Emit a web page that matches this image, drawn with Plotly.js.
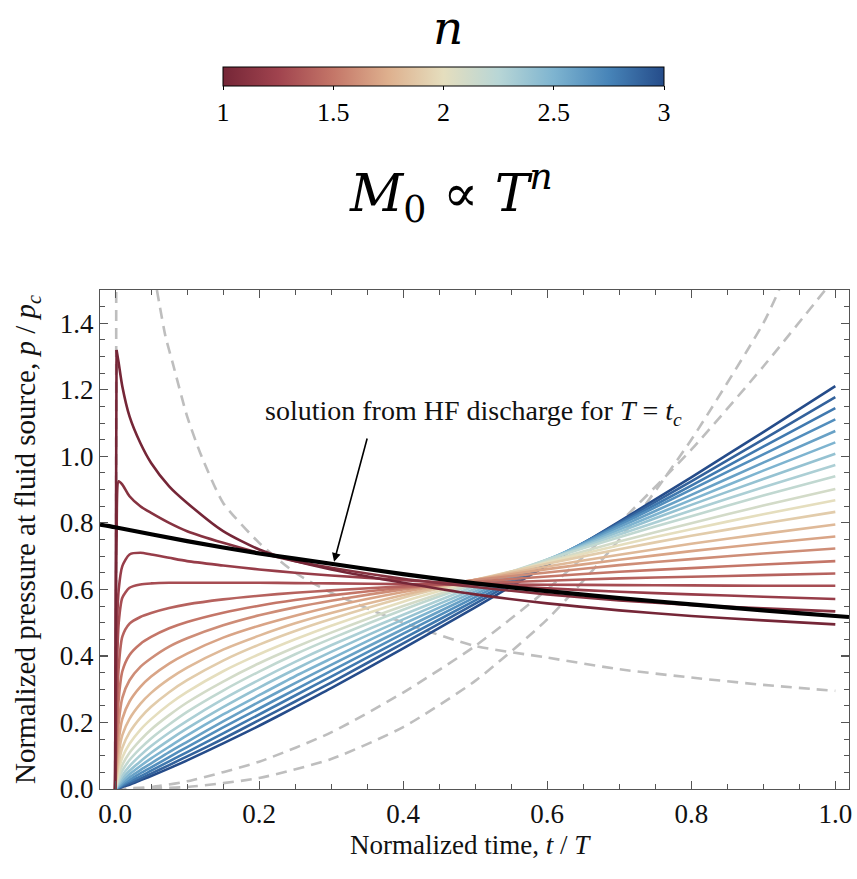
<!DOCTYPE html>
<html>
<head>
<meta charset="utf-8">
<script src="https://cdn.plot.ly/plotly-3.0.1.min.js"></script>
<style>
  html, body { margin: 0; padding: 0; background: #ffffff; }
  #chart { width: 857px; height: 879px; }
</style>
</head>
<body>
<div id="chart"></div>
<script>
// ---- data ----
const nValues = [1.0, 1.1, 1.2, 1.3, 1.4, 1.5, 1.6, 1.7, 1.8, 1.9, 2.0, 2.1, 2.2, 2.3, 2.4, 2.5, 2.6, 2.7, 2.8, 2.9, 3.0];

const timeGrid = [0, 0.002, 0.005, 0.01, 0.02, 0.035, 0.05, 0.075, 0.1, 0.15, 0.2, 0.25, 0.3, 0.4, 0.5, 0.6, 0.7, 0.8, 0.9, 1.0];

const pressure_n10 = [0, 1.32, 1.28, 1.21, 1.12, 1.04, 0.98, 0.91, 0.86, 0.775, 0.72, 0.685, 0.66, 0.62, 0.585, 0.558, 0.537, 0.52, 0.507, 0.495];
const pressure_n11 = [0, 0.75, 0.925, 0.915, 0.88, 0.85, 0.83, 0.80, 0.775, 0.74, 0.71, 0.685, 0.665, 0.632, 0.607, 0.585, 0.567, 0.553, 0.543, 0.534];
const pressure_n12 = [0, 0.45, 0.60, 0.67, 0.705, 0.71, 0.705, 0.695, 0.685, 0.672, 0.66, 0.65, 0.642, 0.628, 0.615, 0.603, 0.593, 0.585, 0.578, 0.571];
const pressure_n13 = [0, 0.32, 0.50, 0.575, 0.605, 0.615, 0.618, 0.62, 0.62, 0.62, 0.62, 0.619, 0.618, 0.616, 0.615, 0.614, 0.613, 0.612, 0.611, 0.611];
const pressure_n14 = [0, 0.207, 0.367, 0.458, 0.497, 0.517, 0.529, 0.544, 0.555, 0.570, 0.581, 0.590, 0.597, 0.609, 0.618, 0.626, 0.633, 0.638, 0.643, 0.648];
const pressure_n15 = [0, 0.144, 0.272, 0.354, 0.403, 0.436, 0.457, 0.483, 0.502, 0.530, 0.551, 0.568, 0.582, 0.605, 0.623, 0.639, 0.653, 0.664, 0.675, 0.685];
const pressure_n16 = [0, 0.100, 0.200, 0.274, 0.327, 0.367, 0.393, 0.428, 0.453, 0.492, 0.522, 0.546, 0.566, 0.600, 0.628, 0.651, 0.673, 0.691, 0.708, 0.723];
const pressure_n17 = [0, 0.069, 0.147, 0.211, 0.263, 0.307, 0.338, 0.377, 0.407, 0.455, 0.491, 0.521, 0.548, 0.592, 0.629, 0.661, 0.689, 0.715, 0.738, 0.759];
const pressure_n18 = [0, 0.047, 0.108, 0.162, 0.211, 0.256, 0.289, 0.331, 0.365, 0.419, 0.461, 0.498, 0.529, 0.583, 0.629, 0.669, 0.704, 0.737, 0.767, 0.795];
const pressure_n19 = [0, 0.033, 0.079, 0.124, 0.170, 0.214, 0.247, 0.291, 0.327, 0.386, 0.434, 0.475, 0.511, 0.575, 0.629, 0.677, 0.721, 0.761, 0.798, 0.833];
const pressure_n20 = [0, 0.022, 0.057, 0.095, 0.136, 0.178, 0.210, 0.255, 0.292, 0.354, 0.405, 0.450, 0.491, 0.563, 0.625, 0.681, 0.733, 0.781, 0.826, 0.868];
const pressure_n21 = [0, 0.015, 0.042, 0.072, 0.109, 0.147, 0.179, 0.222, 0.260, 0.323, 0.378, 0.426, 0.470, 0.550, 0.621, 0.684, 0.744, 0.799, 0.852, 0.902];
const pressure_n22 = [0, 0.010, 0.030, 0.055, 0.087, 0.122, 0.152, 0.194, 0.232, 0.296, 0.353, 0.405, 0.452, 0.539, 0.617, 0.689, 0.757, 0.820, 0.882, 0.940];
const pressure_n23 = [0, 0.007, 0.022, 0.041, 0.069, 0.101, 0.129, 0.169, 0.205, 0.270, 0.328, 0.382, 0.432, 0.524, 0.610, 0.690, 0.765, 0.837, 0.907, 0.974];
const pressure_n24 = [0, 0.005, 0.016, 0.032, 0.055, 0.083, 0.109, 0.147, 0.182, 0.246, 0.305, 0.360, 0.412, 0.510, 0.602, 0.689, 0.773, 0.854, 0.932, 1.008];
const pressure_n25 = [0, 0.003, 0.012, 0.024, 0.044, 0.069, 0.092, 0.127, 0.161, 0.224, 0.282, 0.339, 0.392, 0.496, 0.594, 0.689, 0.780, 0.869, 0.957, 1.042];
const pressure_n26 = [0, 0.002, 0.008, 0.018, 0.035, 0.057, 0.077, 0.111, 0.142, 0.203, 0.262, 0.318, 0.373, 0.481, 0.586, 0.687, 0.787, 0.884, 0.981, 1.076];
const pressure_n27 = [0, 0.002, 0.006, 0.014, 0.027, 0.047, 0.065, 0.096, 0.126, 0.185, 0.242, 0.299, 0.355, 0.467, 0.577, 0.685, 0.793, 0.900, 1.006, 1.111];
const pressure_n28 = [0, 0.001, 0.004, 0.010, 0.022, 0.038, 0.055, 0.083, 0.111, 0.167, 0.224, 0.281, 0.338, 0.452, 0.567, 0.682, 0.797, 0.912, 1.029, 1.145];
const pressure_n29 = [0, 0.001, 0.003, 0.008, 0.017, 0.031, 0.046, 0.072, 0.098, 0.151, 0.207, 0.263, 0.320, 0.438, 0.557, 0.678, 0.801, 0.925, 1.051, 1.178];
const pressure_n30 = [0, 0.000, 0.002, 0.006, 0.013, 0.026, 0.039, 0.062, 0.086, 0.137, 0.190, 0.246, 0.303, 0.423, 0.546, 0.673, 0.804, 0.937, 1.073, 1.211];

const pressureSeries = [pressure_n10, pressure_n11, pressure_n12, pressure_n13, pressure_n14, pressure_n15, pressure_n16,
  pressure_n17, pressure_n18, pressure_n19, pressure_n20, pressure_n21, pressure_n22, pressure_n23, pressure_n24,
  pressure_n25, pressure_n26, pressure_n27, pressure_n28, pressure_n29, pressure_n30];

// HF discharge solution (black)
const hfTime     = [-0.021, 0, 0.1, 0.2, 0.3, 0.4, 0.5, 0.6, 0.7, 0.8, 0.9, 1.0, 1.019];
const hfPressure = [0.795, 0.787, 0.745, 0.708, 0.677, 0.646, 0.618, 0.595, 0.574, 0.555, 0.537, 0.520, 0.517];

// grey dashed reference curves
const nearZeroTime     = [0.0015, 0.0015];
const nearZeroPressure = [0.0, 1.5];
const decayTime     = [0.058, 0.07, 0.08, 0.1, 0.12, 0.15, 0.2, 0.25, 0.3, 0.4, 0.5, 0.6, 0.7, 0.8, 0.9, 1.0];
const decayPressure = [1.5, 1.36, 1.28, 1.12, 1.0, 0.86, 0.74, 0.65, 0.59, 0.50, 0.43, 0.395, 0.36, 0.335, 0.313, 0.295];
const riseATime     = [0, 0.05, 0.1, 0.2, 0.3, 0.4, 0.5, 0.6, 0.7, 0.8, 0.9, 0.986];
const riseAPressure = [0, 0.006, 0.023, 0.082, 0.17, 0.29, 0.43, 0.60, 0.80, 1.02, 1.27, 1.5];
const riseBTime     = [0, 0.1, 0.2, 0.3, 0.4, 0.5, 0.6, 0.7, 0.8, 0.9, 0.922];
const riseBPressure = [0, 0.006, 0.033, 0.09, 0.186, 0.325, 0.51, 0.75, 1.05, 1.40, 1.5];

// annotation arrow (head and tail, data units)
const arrowHead = [0.304, 0.683];
const arrowTail = [0.3505, 1.058];

const colorbarTicks = [1, 1.5, 2, 2.5, 3];
const xTicks = [0, 0.2, 0.4, 0.6, 0.8, 1.0];
const yTicks = [0, 0.2, 0.4, 0.6, 0.8, 1.0, 1.2, 1.4];

// ---- style ----
const colorscale = [
  [0.000, 'rgb(117,38,55)'],
  [0.125, 'rgb(160,67,78)'],
  [0.250, 'rgb(196,118,104)'],
  [0.375, 'rgb(222,176,142)'],
  [0.500, 'rgb(229,222,190)'],
  [0.625, 'rgb(184,214,214)'],
  [0.750, 'rgb(126,180,208)'],
  [0.875, 'rgb(71,132,184)'],
  [1.000, 'rgb(37,76,138)']
];
function parseRgb(s) { return s.match(/\d+/g).map(Number); }
function colorAt(v) {
  for (let i = 1; i < colorscale.length; i++) {
    if (v <= colorscale[i][0] + 1e-9) {
      const a = colorscale[i - 1], b = colorscale[i];
      const f = (v - a[0]) / (b[0] - a[0]);
      const ca = parseRgb(a[1]), cb = parseRgb(b[1]);
      const c = ca.map((x, k) => Math.round(x + (cb[k] - x) * f));
      return 'rgb(' + c.join(',') + ')';
    }
  }
  return colorscale[colorscale.length - 1][1];
}

// plot area in pixels: left 100, right 849, top 290, bottom 789
const PL = 100, PR = 849, PT = 290, PB = 789;
const px2paperX = px => (px - PL) / (PR - PL);
const px2paperY = py => (PB - py) / (PB - PT);

const serif = 'Liberation Serif';
const dashGrey = { color: 'rgb(190,190,190)', width: 2.6, dash: '11px,7px' };

const traces = [];
[[nearZeroTime, nearZeroPressure], [decayTime, decayPressure], [riseATime, riseAPressure], [riseBTime, riseBPressure]]
  .forEach(([x, y]) => traces.push({ type: 'scatter', mode: 'lines', x: x, y: y, line: Object.assign({ shape: 'spline', smoothing: 0.6 }, dashGrey), hoverinfo: 'skip', showlegend: false }));

const order = nValues.map((_, i) => i).reverse();
order.forEach(i => {
  const col = colorAt((nValues[i] - 1) / 2);
  if (i === 0) {
    // n = 1: sharp rise to the peak drawn straight, the decay after the peak smoothed
    const peak = 1;
    traces.push({
      type: 'scatter', mode: 'lines', x: timeGrid.slice(0, peak + 1), y: pressureSeries[i].slice(0, peak + 1),
      line: { color: col, width: 2.6, shape: 'linear' }, showlegend: false
    });
    traces.push({
      type: 'scatter', mode: 'lines', x: timeGrid.slice(peak), y: pressureSeries[i].slice(peak),
      line: { color: col, width: 2.6, shape: 'spline', smoothing: 0.7 }, showlegend: false
    });
  } else {
    traces.push({
      type: 'scatter', mode: 'lines', x: timeGrid, y: pressureSeries[i],
      line: { color: col, width: 2.6, shape: 'spline', smoothing: 0.7 },
      name: 'n = ' + nValues[i].toFixed(1), showlegend: false
    });
  }
});

traces.push({ type: 'scatter', mode: 'lines', x: hfTime, y: hfPressure, line: { color: '#000', width: 4.2, shape: 'spline', smoothing: 0.6 }, showlegend: false });

// colour bar holder (no visible marks)
traces.push({
  type: 'scatter', mode: 'markers', x: [null], y: [null], showlegend: false,
  marker: {
    color: [nValues[0]], cmin: 1, cmax: 3, colorscale: colorscale, showscale: true,
    colorbar: {
      orientation: 'h',
      x: px2paperX(443.5), xanchor: 'center', y: px2paperY(67), yanchor: 'top',
      lenmode: 'fraction', len: 441 / (PR - PL), thickness: 19, xpad: 0, ypad: 0,
      outlinewidth: 1, outlinecolor: '#000',
      tickvals: colorbarTicks, ticktext: colorbarTicks.map(String),
      ticks: 'outside', ticklen: 4, tickcolor: '#000',
      tickfont: { family: serif, size: 26, color: '#000' }
    }
  }
});

const axisCommon = {
  showline: true, linecolor: '#555', linewidth: 1.2, mirror: 'ticks',
  ticks: 'inside', ticklen: 8, tickcolor: '#555', tickwidth: 1.2,
  showgrid: false, zeroline: false,
  tickfont: { family: serif, size: 27, color: '#111' }
};

const layout = {
  width: 857, height: 879,
  margin: { l: PL, r: 857 - PR, t: PT, b: 879 - PB },
  paper_bgcolor: '#fff', plot_bgcolor: '#fff',
  showlegend: false,
  xaxis: Object.assign({}, axisCommon, {
    range: [-0.021, 1.019], tickvals: xTicks, ticktext: xTicks.map(v => v.toFixed(1)),
    minor: { dtick: 0.05, tick0: 0, ticks: 'inside', ticklen: 5, tickcolor: '#555', tickwidth: 1 },
    title: { text: '' }
  }),
  yaxis: Object.assign({}, axisCommon, {
    range: [0, 1.5], tickvals: yTicks, ticktext: yTicks.map(v => v.toFixed(1)),
    minor: { dtick: 0.05, tick0: 0, ticks: 'inside', ticklen: 5, tickcolor: '#555', tickwidth: 1 },
    title: { text: '' }
  }),
  annotations: [
    {
      xref: 'x', yref: 'y', axref: 'x', ayref: 'y',
      x: arrowHead[0], y: arrowHead[1], ax: arrowTail[0], ay: arrowTail[1],
      showarrow: true, arrowhead: 2, arrowsize: 1.1, arrowwidth: 1.6, arrowcolor: '#000', text: ''
    },
    {
      xref: 'paper', yref: 'paper', x: px2paperX(473), y: px2paperY(412),
      xanchor: 'center', yanchor: 'middle', showarrow: false,
      text: 'solution from HF discharge for <i>T</i> = <i>t</i><sub><i>c</i></sub>',
      font: { family: serif, size: 28, color: '#111' }
    },
    {
      // x-axis title
      xref: 'paper', yref: 'paper', x: px2paperX(470), y: px2paperY(845),
      xanchor: 'center', yanchor: 'middle', showarrow: false,
      text: 'Normalized time, <i>t</i> / <i>T</i>',
      font: { family: serif, size: 27, color: '#111' }
    },
    {
      // y-axis title
      xref: 'paper', yref: 'paper', x: px2paperX(27), y: px2paperY(540),
      xanchor: 'center', yanchor: 'middle', showarrow: false, textangle: -90,
      text: 'Normalized pressure at fluid source, <i>p</i> / <i>p</i><sub><i>c</i></sub>',
      font: { family: serif, size: 29, color: '#111' }
    },
    {
      xref: 'paper', yref: 'paper', x: px2paperX(448), y: px2paperY(-2),
      xanchor: 'center', yanchor: 'top', showarrow: false,
      text: '<i>n</i>', font: { family: 'DejaVu Serif', size: 47, color: '#000' }
    },
    {
      xref: 'paper', yref: 'paper', x: px2paperX(451), y: px2paperY(193),
      xanchor: 'center', yanchor: 'middle', showarrow: false,
      text: '<i>M</i><sub>0</sub> ∝ <i>T</i><sup><i>n</i></sup>', font: { family: 'DejaVu Serif', size: 52, color: '#000' }
    }
  ]
};

Plotly.newPlot('chart', traces, layout, { staticPlot: true, displayModeBar: false });
</script>
</body>
</html>
